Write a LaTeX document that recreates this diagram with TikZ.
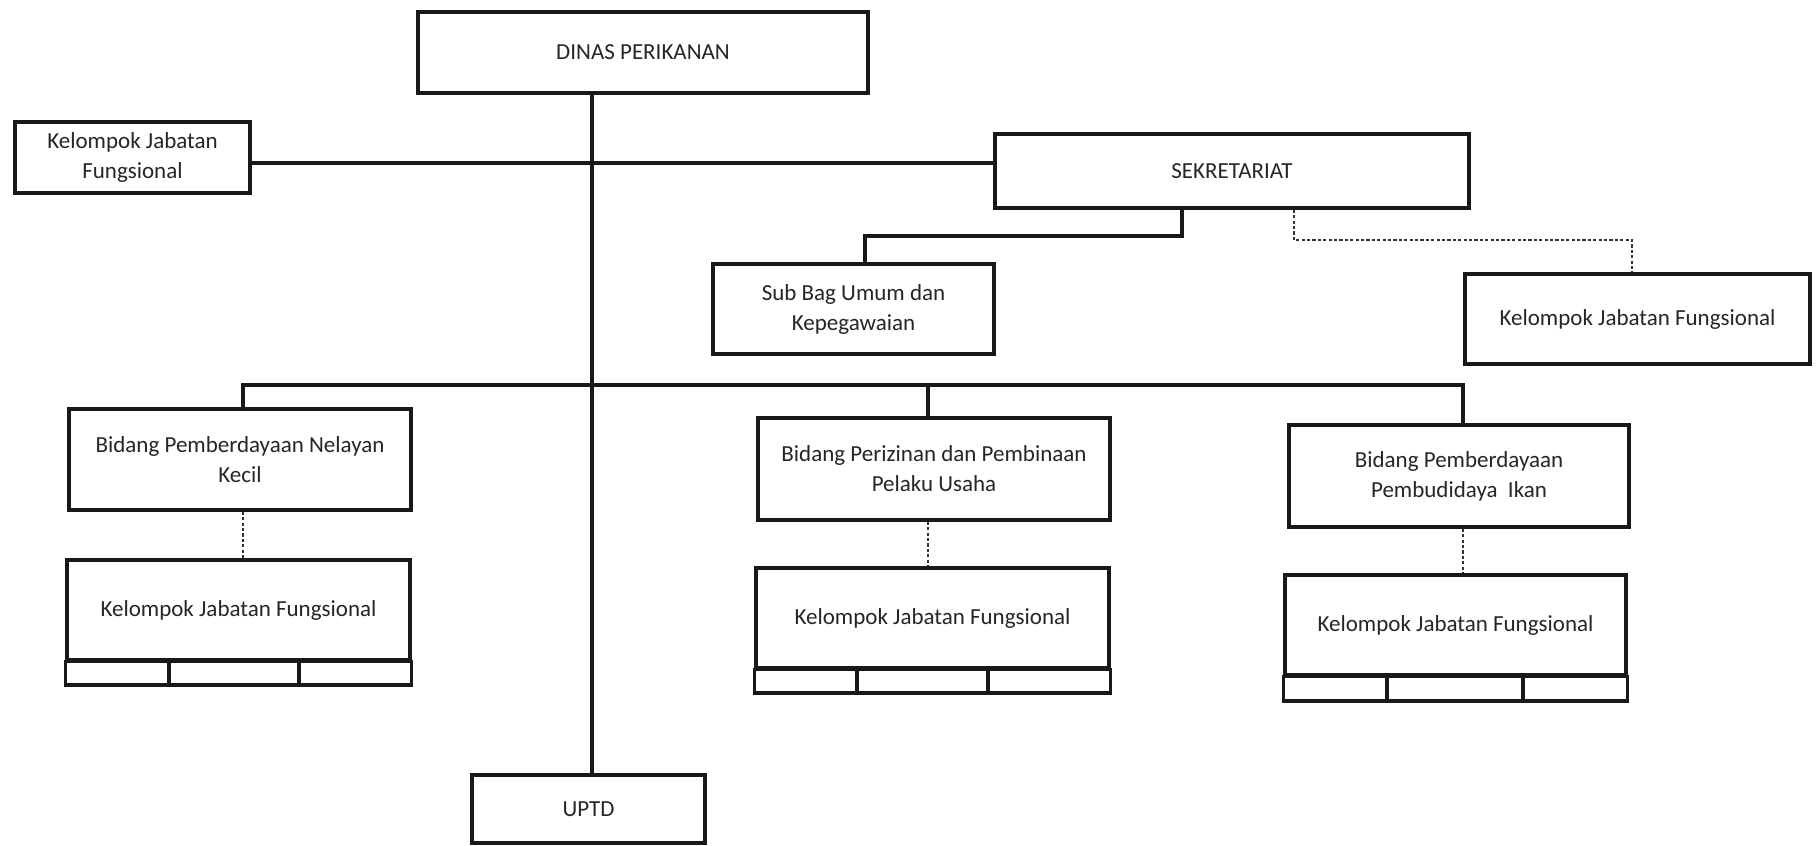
\documentclass[tikz,border=0pt]{standalone}
\usepackage{fontspec}
\setmainfont{Carlito}
\usetikzlibrary{calc}

% place a box by its left, top, right and bottom edges (in px units)
\newcommand\orgbox[7][]{%
  \pgfmathsetmacro\bw{(#5-#3)*0.5}%
  \pgfmathsetmacro\bh{(#6-#4)*0.5}%
  \node[unitbox, minimum width=\bw pt, minimum height=\bh pt, #1] (#2)
    at ({(#3+#5)/2},{(#4+#6)/2}) {#7};}

\begin{document}
\begin{tikzpicture}[x=0.5pt, y=-0.5pt,
  unitbox/.style={draw=black!90, line width=1.8pt, fill=white, inner sep=0pt,
    align=center, font=\fontsize{11.5}{15}\selectfont, text=black!85},
  solidlink/.style={draw=black!90, line width=1.6pt},
  dotlink/.style={draw=black!80, line width=1pt, dash pattern=on 1.6pt off 1.1pt},
  strip/.style={draw=black!90, line width=1.6pt}]
\useasboundingbox (0,0) rectangle (1816,846);

% junction points of the connectors
\coordinate (trunkTop) at (592,93);
\coordinate (trunkBot) at (592,775);
\coordinate (kjfLine) at (0,163);
\coordinate (sekJoint) at (1182,236);
\coordinate (subJoint) at (865,236);
\coordinate (dashA) at (1294,240);
\coordinate (dashB) at (1632,240);
\coordinate (barL) at (243,385);
\coordinate (barM) at (928,385);
\coordinate (barR) at (1463,385);

% boxes
\orgbox{dinas}{418}{12}{868}{93}{DINAS PERIKANAN}
\orgbox{kjfL}{15}{122}{250}{193}{Kelompok Jabatan\\Fungsional}
\orgbox{sek}{995}{134}{1469}{208}{SEKRETARIAT}
\orgbox{subbag}{713}{264}{994}{354}{Sub Bag Umum dan\\Kepegawaian}
\orgbox{kjfR}{1465}{274}{1810}{364}{Kelompok Jabatan Fungsional}
\orgbox{bidA}{69}{409}{411}{510}{Bidang Pemberdayaan Nelayan\\Kecil}
\orgbox{bidB}{758}{418}{1110}{520}{Bidang Perizinan dan Pembinaan\\Pelaku Usaha}
\orgbox{bidC}{1289}{425}{1629}{527}{Bidang Pemberdayaan\\Pembudidaya \ Ikan}
\orgbox{kjfA}{67}{560}{410}{660}{Kelompok Jabatan Fungsional}
\orgbox{kjfB}{756}{568}{1109}{668}{Kelompok Jabatan Fungsional}
\orgbox{kjfC}{1285}{575}{1626}{675}{Kelompok Jabatan Fungsional}
\orgbox{uptd}{472}{775}{705}{843}{UPTD}

% three-cell strips under the functional groups
\draw[strip] (kjfA.south west) rectangle (kjfA.south east |- 0,685);
\draw[strip] (169,660) -- (169,685) (299,660) -- (299,685);
\draw[strip] (kjfB.south west) rectangle (kjfB.south east |- 0,693);
\draw[strip] (857,668) -- (857,693) (988,668) -- (988,693);
\draw[strip] (kjfC.south west) rectangle (kjfC.south east |- 0,701);
\draw[strip] (1387,675) -- (1387,701) (1523,675) -- (1523,701);

% main trunk from the head office down to UPTD
\draw[solidlink] (dinas.south -| trunkTop) -- (uptd.north -| trunkBot);
% functional group beside the head office, tied to the secretariat
\draw[solidlink] (kjfL.east |- kjfLine) -- (sek.west |- kjfLine);
% secretariat to its sub-section
\draw[solidlink] (sek.south -| sekJoint) -- (sekJoint) -- (subJoint) -- (subbag.north -| subJoint);
% secretariat to its functional group (coordination line)
\draw[dotlink] (sek.south -| dashA) -- (dashA) -- (dashB) -- (kjfR.north -| dashB);
% bar to the three divisions
\draw[solidlink] (bidA.north -| barL) -- (barL) -- (barR) -- (bidC.north -| barR);
\draw[solidlink] (barM) -- (bidB.north -| barM);
% divisions to their functional groups
\draw[dotlink] (bidA.south -| barL) -- (kjfA.north -| barL);
\draw[dotlink] (bidB.south -| barM) -- (kjfB.north -| barM);
\draw[dotlink] (bidC.south -| barR) -- (kjfC.north -| barR);
\end{tikzpicture}
\end{document}
